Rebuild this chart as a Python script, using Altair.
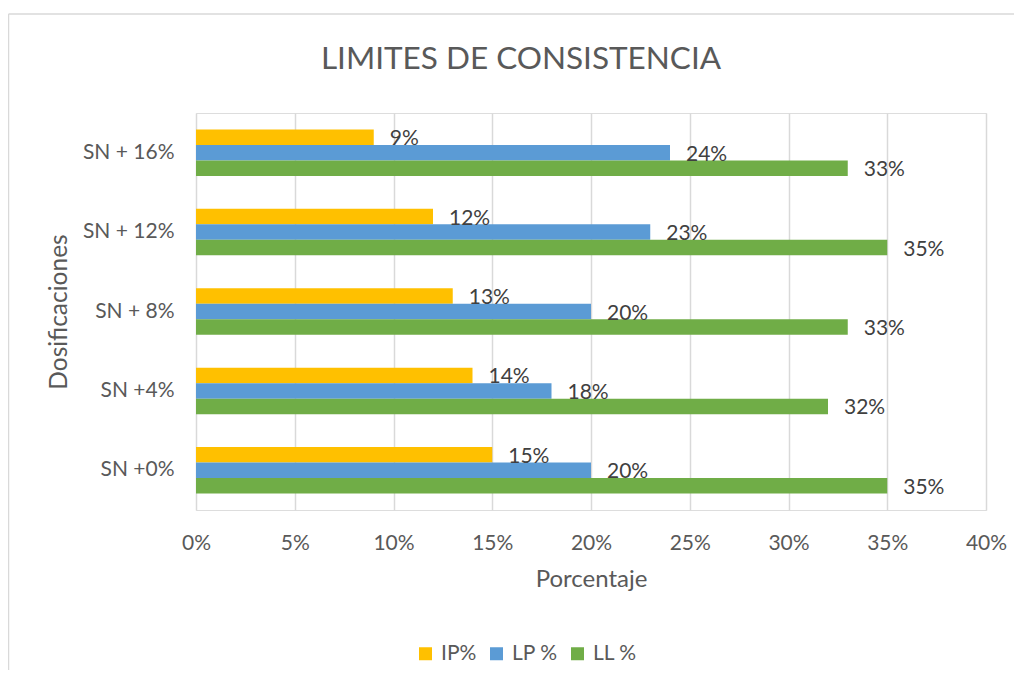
import altair as alt
import pandas as pd

categories = ["SN +0%", "SN +4%", "SN + 8%", "SN + 12%", "SN + 16%"]
series = ["IP%", "LP %", "LL %"]
ip_values = [15, 14, 13, 12, 9]
lp_values = [20, 18, 20, 23, 24]
ll_values = [35, 32, 33, 35, 33]
colors = ["#FFC000", "#5B9BD5", "#70AD47"]
x_ticks = [0, 5, 10, 15, 20, 25, 30, 35, 40]

rows = []
for i, c in enumerate(categories):
    for s, vals in zip(series, [ip_values, lp_values, ll_values]):
        rows.append({"Dosificacion": c, "Serie": s, "Valor": vals[i], "Etiqueta": f"{vals[i]}%"})
df = pd.DataFrame(rows)

FONT = "Lato"
cat_order = list(reversed(categories))

y_enc = alt.Y("Dosificacion:N", sort=cat_order,
              scale=alt.Scale(paddingInner=0.415, paddingOuter=0.2075),
              axis=alt.Axis(title="Dosificaciones", labelFontSize=21, labelColor="#595959",
                            labelFont=FONT, labelPadding=22, ticks=False, domain=False,
                            titleFont=FONT, titleFontSize=24.5, titleColor="#595959",
                            titleFontWeight="normal", titlePadding=11, grid=False))
x_enc = alt.X("Valor:Q", scale=alt.Scale(domain=[0, 40], nice=False),
              axis=alt.Axis(title="Porcentaje", values=x_ticks, labelExpr="datum.value + '%'",
                            labelFontSize=21, labelColor="#595959", labelFont=FONT,
                            labelPadding=22, ticks=False, domain=False, labelFlush=False,
                            grid=True, gridColor="#D9D9D9", gridWidth=1.5,
                            titleFont=FONT, titleFontSize=24, titleColor="#595959",
                            titleFontWeight="normal", titlePadding=14))
yoff = alt.YOffset("Serie:N", sort=series, scale=alt.Scale(paddingInner=0, paddingOuter=0))

bars = alt.Chart(df).mark_bar(size=15.5).encode(
    y=y_enc, x=x_enc, yOffset=yoff,
    color=alt.Color("Serie:N", sort=series, scale=alt.Scale(domain=series, range=colors),
                    legend=alt.Legend(title=None, orient="none", direction="horizontal",
                                      legendX=219, legendY=530, symbolType="square",
                                      symbolSize=169, symbolStrokeWidth=0, labelFont=FONT,
                                      labelFontSize=21, labelColor="#595959", labelOffset=5,
                                      columnPadding=9, padding=0))
)

labels = alt.Chart(df).mark_text(align="left", baseline="middle", dx=16, dy=2,
                                 fontSize=21, font=FONT, color="#404040").encode(
    y=alt.Y("Dosificacion:N", sort=cat_order), x="Valor:Q", yOffset=yoff, text="Etiqueta:N"
)

border = alt.Chart(alt.Data(values=[{}])).mark_rule(color="#D9D9D9", strokeWidth=1.5).encode(
    x=alt.value(-187.5), y=alt.value(-99), y2=alt.value(600)
)
border_top = alt.Chart(alt.Data(values=[{}])).mark_rule(color="#D9D9D9", strokeWidth=1.5).encode(
    x=alt.value(-187.5), x2=alt.value(830), y=alt.value(-99)
)

chart = alt.layer(bars, labels, border, border_top).properties(
    width=790, height=397,
    title=alt.TitleParams("LIMITES DE CONSISTENCIA", font=FONT, fontSize=31.5, color="#595959",
                          fontWeight="normal", anchor="middle", dx=-70, offset=-87,
                          baseline="alphabetic"),
    autosize=alt.AutoSizeParams(type="none"),
    padding={"left": 188, "top": 105, "right": 28, "bottom": 160},
).configure_view(stroke=None).configure(background="white")

chart.save("out.html", embed_options={"renderer": "svg", "actions": False})
